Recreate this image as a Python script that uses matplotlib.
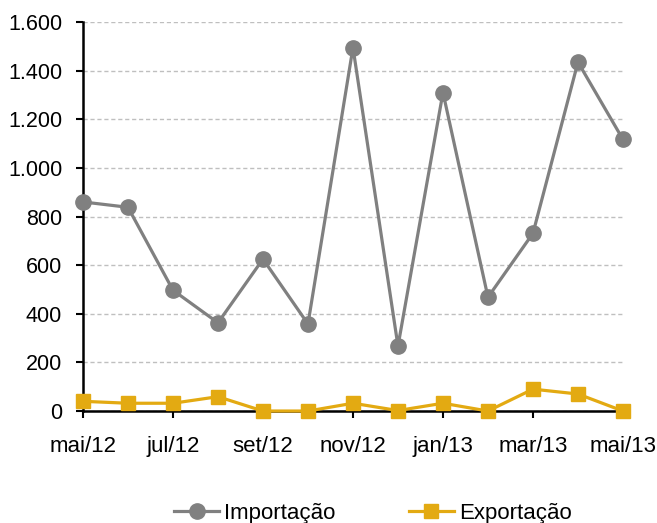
#
# Importação x Exportação mensal, mai/12 a mai/13
#

import numpy as np
import matplotlib.pyplot as plt
from matplotlib.ticker import FuncFormatter

meses = ["mai/12", "jun/12", "jul/12", "ago/12", "set/12", "out/12", "nov/12",
         "dez/12", "jan/13", "fev/13", "mar/13", "abr/13", "mai/13"]
importacao = [860, 838, 497, 363, 625, 358, 1495, 267, 1310, 468, 731, 1435, 1117]
exportacao = [40, 32, 32, 59, 0, 0, 32, 2, 32, 0, 90, 70, 0]

plt.rcParams["font.family"] = ["Liberation Sans", "DejaVu Sans"]
plt.rcParams["font.size"] = 15

cinza = "#808080"
ouro = "#E3AA12"

fig = plt.figure(figsize=(6.57, 5.23), dpi=100)
ax = fig.add_axes([0.1263, 0.2141, 0.8219, 0.7438])

x = np.arange(len(meses))
ax.plot(x, importacao, color=cinza, lw=2.3, marker="o", ms=11, label="Importação",
        zorder=3, clip_on=False)
ax.plot(x, exportacao, color=ouro, lw=2.3, marker="s", ms=10, label="Exportação",
        zorder=3, clip_on=False)

ax.set_xlim(0, 12)
ax.set_ylim(0, 1600)
ax.set_yticks(np.arange(0, 1601, 200))
ax.yaxis.set_major_formatter(FuncFormatter(lambda v, p: f"{int(v):,}".replace(",", ".")))
ax.set_xticks(x[::2])
ax.set_xticklabels(meses[::2])
ax.tick_params(axis="both", length=5, width=1.5, colors="black")
ax.tick_params(axis="x", pad=13, labelsize=16)
ax.tick_params(axis="y", pad=10, labelsize=15.5)

ax.grid(axis="y", color="#BFBFBF", linestyle=(0, (3, 2)), lw=1)
ax.set_axisbelow(True)
for s in ["top", "right"]:
    ax.spines[s].set_visible(False)
for s in ["left", "bottom"]:
    ax.spines[s].set_linewidth(1.8)
ax.spines["bottom"].set_zorder(2)

fig.legend(loc="center", bbox_to_anchor=(0.568, 0.019), ncol=2, frameon=False,
           handlelength=2.0, handletextpad=0.25, columnspacing=3.3, fontsize=16)

fig.savefig("out.png", dpi=100)
